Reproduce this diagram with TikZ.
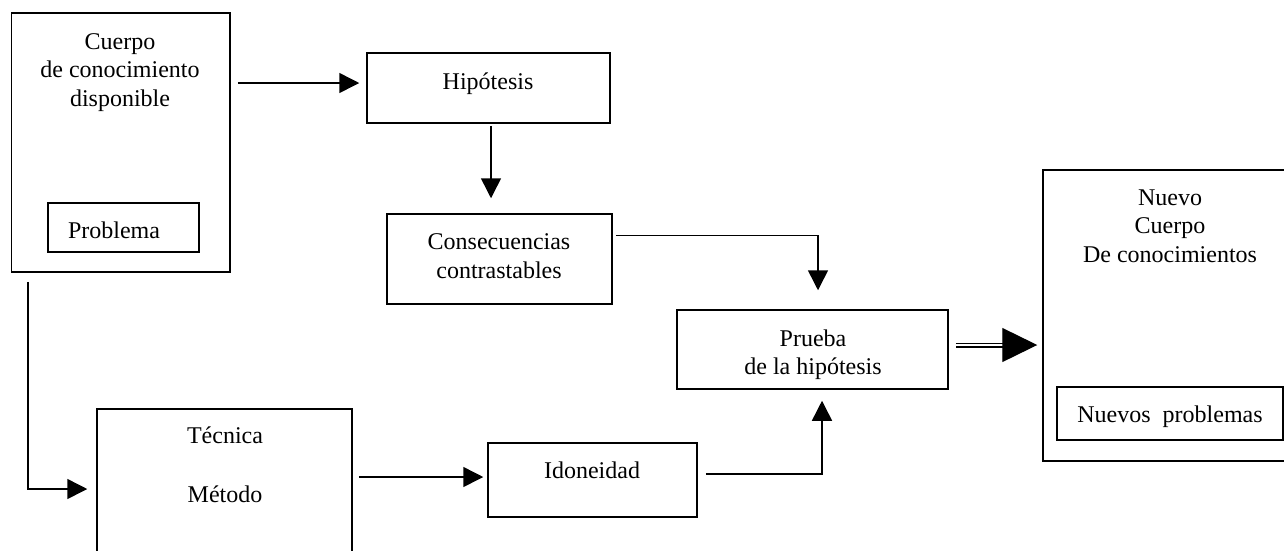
\documentclass[tikz,border=0pt]{standalone}
\usepackage{fontspec}
\setmainfont{Liberation Serif}
\usetikzlibrary{arrows.meta}
\begin{document}
\begin{tikzpicture}[x=1pt,y=-1pt,
  box/.style={draw, line width=1.5pt, rectangle, inner sep=0pt},
  txt/.style={anchor=base, inner sep=0pt, font=\fontsize{24}{28.5}\selectfont},
  arr/.style={line width=1.5pt, -{Triangle[length=20pt,width=20pt]}},
  bigarr/.style={line width=1.3pt, double, double distance=2.4pt, -{Triangle[length=35pt,width=34pt]}}]
\useasboundingbox (0,0) rectangle (1284,550);
\clip (0,0) rectangle (1284,550);
% boxes
\node[box, minimum width=218.5pt, minimum height=259pt] (cuerpo) at (120.75,142.5) {};
\node[box, minimum width=151pt, minimum height=49pt] (problema) at (123.5,227.5) {};
\node[box, minimum width=243pt, minimum height=70pt] (hip) at (488.5,88) {};
\node[box, minimum width=225pt, minimum height=90pt] (cons) at (499.5,259) {};
\node[box, minimum width=271pt, minimum height=79pt] (prueba) at (812.5,349.5) {};
\node[box, minimum width=257pt, minimum height=291pt] (nuevo) at (1171.5,315.5) {};
\node[box, minimum width=226pt, minimum height=53pt] (nprob) at (1170,413.5) {};
\node[box, minimum width=255pt, minimum height=191pt] (tecnica) at (224.5,504.5) {};
\node[box, minimum width=209pt, minimum height=74pt] (idon) at (592.5,480) {};
% texts
\node[txt] (t1) at (120,49.5) {Cuerpo};
\node[txt] (t2) at (120,77.5) {de conocimiento};
\node[txt] (t3) at (120,106) {disponible};
\node[txt] (t4) at (114,238) {Problema};
\node[txt] (t5) at (488,89) {Hipótesis};
\node[txt] (t6) at (499,249) {Consecuencias};
\node[txt] (t7) at (499,278) {contrastables};
\node[txt] (t8) at (813,346) {Prueba};
\node[txt] (t9) at (813,374.5) {de la hipótesis};
\node[txt] (t10) at (1170,205) {Nuevo};
\node[txt] (t11) at (1170,233.5) {Cuerpo};
\node[txt] (t12) at (1170,262) {De conocimientos};
\node[txt] (t13) at (1170,422) {Nuevos\ \ problemas};
\node[txt] (t14) at (225,443) {Técnica};
\node[txt] (t15) at (225,502) {Método};
\node[txt] (t16) at (592,478) {Idoneidad};
% connectors
\draw[arr] ([shift={(7,-59.5)}]cuerpo.east) -- ([shift={(-7,-5)}]hip.west);
\draw[arr] ([shift={(2.5,2)}]hip.south) -- ([shift={(2.5,-15)}]hip.south |- cons.north);
\draw[arr] ([shift={(3,22)}]cons.north east) -| ([shift={(5.5,-19)}]prueba.north);
\draw[arr] ([shift={(8,-6)}]idon.east) -| ([shift={(9.5,11)}]prueba.south);
\draw[arr] ([shift={(-93,9)}]cuerpo.south) |- ([shift={(-9,-15.5)}]tecnica.west);
\draw[arr] ([shift={(6,-27.5)}]tecnica.east) -- ([shift={(-4,-3)}]idon.west);
\draw[bigarr] ([shift={(7,-4.5)}]prueba.east) -- ([shift={(-5,29.5)}]nuevo.west);
\end{tikzpicture}
\end{document}
